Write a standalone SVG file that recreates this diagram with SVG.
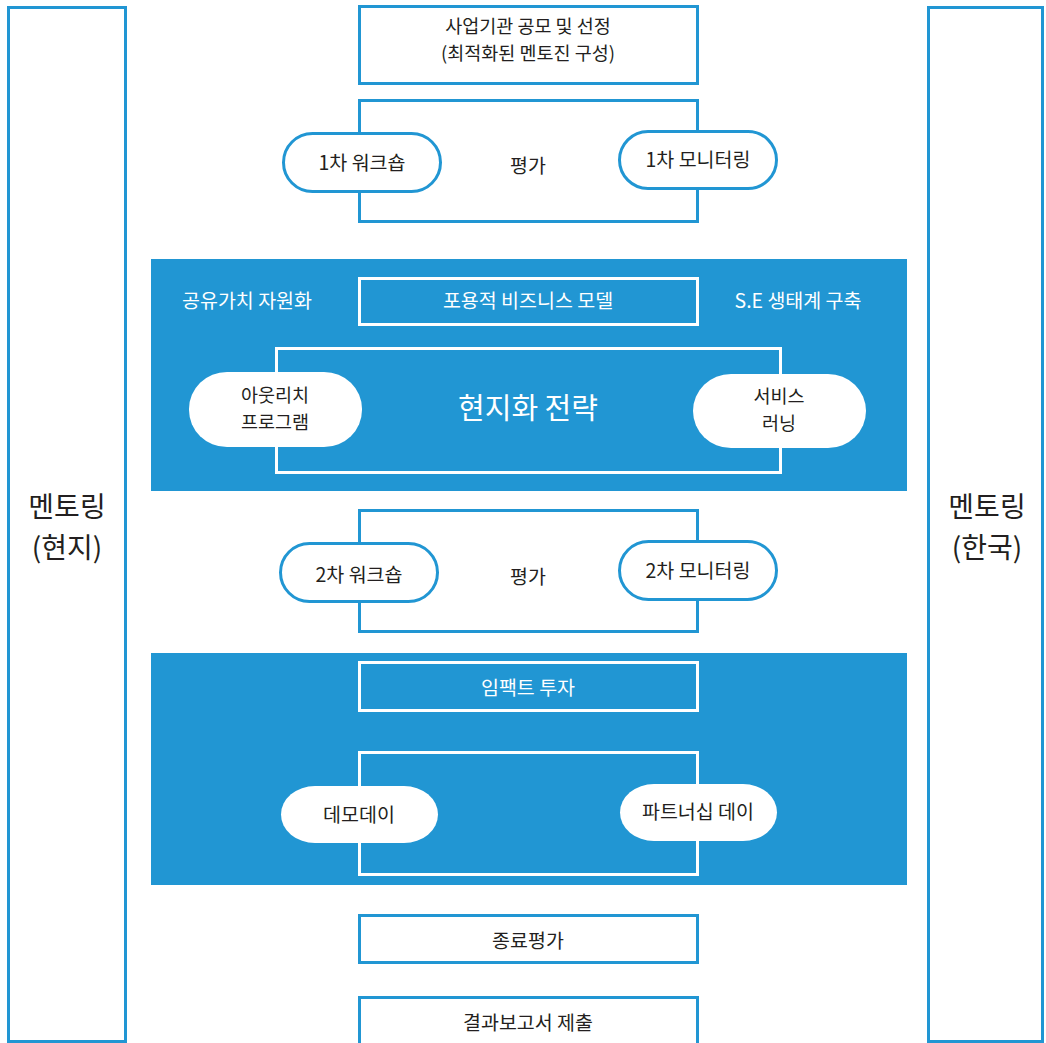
<svg xmlns="http://www.w3.org/2000/svg" width="1046" height="1043" viewBox="0 0 1046 1043">
<style>
text{font-family:"Noto Sans CJK KR","Noto Sans",sans-serif;fill:#231f20;text-anchor:middle;dominant-baseline:central}
.w{fill:#ffffff}
.box{fill:#ffffff;stroke:#2196d3;stroke-width:3}
.frame{fill:none;stroke:#2196d3;stroke-width:3}
.wframe{fill:none;stroke:#ffffff;stroke-width:3}
.band{fill:#2196d3}
.pill{fill:#ffffff;stroke:#2196d3;stroke-width:3}
.wpill{fill:#ffffff}
.t17{font-size:19.5px}
.t2l{font-size:18.5px}
.t26{font-size:29px}
.tbig{font-size:28px}
</style>
<rect width="1046" height="1043" fill="#ffffff"/>
<g id="mentor-local"><rect class="box" x="8.5" y="7.5" width="117" height="1034"/><text class="tbig" x="67" y="505">멘토링</text><text class="tbig" x="67" y="546">(현지)</text></g>
<g id="mentor-korea"><rect class="box" x="928.5" y="7.5" width="114" height="1034"/><text class="tbig" x="987" y="505">멘토링</text><text class="tbig" x="987" y="546">(한국)</text></g>
<g id="band1"><rect class="band" x="151" y="259" width="756" height="232"/></g>
<g id="band2"><rect class="band" x="151" y="653" width="756" height="232"/></g>
<g id="connectors">
<rect class="frame" x="359.5" y="100.5" width="338" height="121"/>
<rect class="wframe" x="276.5" y="348.5" width="504" height="124"/>
<rect class="frame" x="359.5" y="510.5" width="338" height="121"/>
<rect class="wframe" x="359.5" y="752.5" width="338" height="122"/>
</g>
<g id="select"><rect class="box" x="359.5" y="6.5" width="338" height="77"/><text class="t2l" x="528" y="25">사업기관 공모 및 선정</text><text class="t2l" x="528" y="52">(최적화된 멘토진 구성)</text></g>
<g id="eval1"><text class="t17" x="528" y="164">평가</text></g>
<g id="ws1"><rect class="pill" x="283.5" y="133.5" width="157" height="58" rx="29"/><text class="t17" x="362" y="161">1차 워크숍</text></g>
<g id="mon1"><rect class="pill" x="619.5" y="131.5" width="157" height="57" rx="28.5"/><text class="t17" x="698" y="158">1차 모니터링</text></g>
<g id="share"><text class="t17 w" x="247" y="299">공유가치 자원화</text></g>
<g id="inclusive"><rect class="wframe" x="359.5" y="278.5" width="338" height="46"/><text class="t17 w" x="528" y="299">포용적 비즈니스 모델</text></g>
<g id="se"><text class="t17 w" x="798" y="299">S.E 생태계 구축</text></g>
<g id="localize"><text class="t26 w" x="528" y="406">현지화 전략</text></g>
<g id="outreach"><rect class="wpill" x="189" y="372" width="173" height="75" rx="38" ry="37"/><text class="t2l" x="275" y="394">아웃리치</text><text class="t2l" x="275" y="421">프로그램</text></g>
<g id="service"><rect class="wpill" x="693" y="374" width="173" height="74" rx="38" ry="37"/><text class="t2l" x="779" y="395">서비스</text><text class="t2l" x="779" y="422">러닝</text></g>
<g id="eval2"><text class="t17" x="528" y="575">평가</text></g>
<g id="ws2"><rect class="pill" x="280.5" y="543.5" width="157" height="58" rx="29"/><text class="t17" x="359" y="573">2차 워크숍</text></g>
<g id="mon2"><rect class="pill" x="619.5" y="541.5" width="157" height="58" rx="29"/><text class="t17" x="698" y="569">2차 모니터링</text></g>
<g id="impact"><rect class="wframe" x="359.5" y="662.5" width="338" height="48"/><text class="t17 w" x="528" y="686">임팩트 투자</text></g>
<g id="demo"><rect class="wpill" x="281" y="786" width="157" height="57" rx="34" ry="28.5"/><text class="t17" x="359" y="813">데모데이</text></g>
<g id="partner"><rect class="wpill" x="620" y="784" width="157" height="57" rx="34" ry="28.5"/><text class="t17" x="698" y="810">파트너십 데이</text></g>
<g id="final"><rect class="box" x="359.5" y="915.5" width="338" height="47"/><text class="t17" x="528" y="939">종료평가</text></g>
<g id="report"><rect class="box" x="359.5" y="997.5" width="338" height="60"/><text class="t17" x="528" y="1021">결과보고서 제출</text></g>
</svg>
